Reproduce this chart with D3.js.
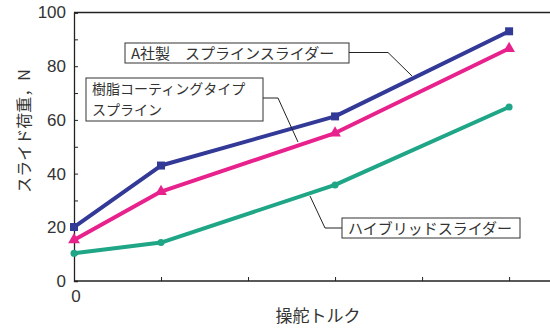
<!DOCTYPE html>
<html>
<head>
<meta charset="utf-8">
<script src="https://cdn.jsdelivr.net/npm/d3@7"></script>
<style>
  html, body { margin: 0; padding: 0; background: #fff; }
  svg { display: block; }
  text { font-family: "Noto Sans CJK JP", "Liberation Sans", sans-serif; fill: #333; }
</style>
</head>
<body>
<svg id="chart" width="550" height="330"></svg>
<script>
// Steering torque positions (tick units) and slide load values, N
const torque = [0, 1, 3, 5];
const splineSlider = [20.1, 43.0, 61.3, 93.0];
const resinSpline = [15.3, 33.3, 55.1, 86.6];
const hybridSlider = [10.3, 14.3, 35.8, 64.8];
const yTicks = [0, 20, 40, 60, 80, 100];
const yMinorTicks = [10, 30, 50, 70, 90];
const xTicks = [1, 2, 3, 4, 5];

const series = [
  { name: "A社製　スプラインスライダー", values: splineSlider, color: "#323996", marker: "square" },
  { name: "樹脂コーティングタイプ", values: resinSpline, color: "#e8228d", marker: "triangle" },
  { name: "ハイブリッドスライダー", values: hybridSlider, color: "#1ea686", marker: "circle" }
];

const svg = d3.select("#chart");
const x = d3.scaleLinear().domain([0, 5.47]).range([74, 550]);
const y = d3.scaleLinear().domain([0, 100]).range([281, 12.5]);

// Frame: top line, left axis, bottom axis
svg.append("line").attr("x1", x(0)).attr("x2", 550).attr("y1", y(100)).attr("y2", y(100))
  .attr("stroke", "#222").attr("stroke-width", 1.3);

const yAxis = svg.append("g").attr("transform", `translate(${x(0)},0)`)
  .call(d3.axisRight(y).tickValues(yTicks.concat(yMinorTicks)).tickSize(4).tickFormat(""));
yAxis.select(".domain").attr("stroke", "#222").attr("stroke-width", 1.3);
yAxis.selectAll(".tick line").attr("stroke", "#222").attr("stroke-width", 1);

const xAxis = svg.append("g").attr("transform", `translate(0,${y(0)})`)
  .call(d3.axisTop(x).tickValues(xTicks).tickSize(4).tickFormat(""));
xAxis.select(".domain").attr("stroke", "#222").attr("stroke-width", 1.3)
  .attr("d", `M${x(0)},0H550`);
xAxis.selectAll(".tick line").attr("stroke", "#222").attr("stroke-width", 1);

// Y tick labels
svg.append("g").selectAll("text").data(yTicks).join("text")
  .attr("x", 66).attr("y", d => y(d)).attr("dy", "0.35em")
  .attr("text-anchor", "end")
  .style("font-family", "'Liberation Sans', sans-serif")
  .style("font-size", "17px")
  .text(d => d);

// X tick label at origin
svg.append("text").attr("x", x(0) + 2).attr("y", 302).attr("text-anchor", "middle")
  .style("font-family", "'Liberation Sans', sans-serif").style("font-size", "17px").text("0");

// Axis titles
svg.append("text").attr("x", 318).attr("y", 322).attr("text-anchor", "middle")
  .style("font-size", "17px").text("操舵トルク");
svg.append("text").attr("transform", "translate(30,131) rotate(-90)")
  .attr("text-anchor", "middle").style("font-size", "16px").text("スライド荷重，N");

// Lines
const line = d3.line().x((d, i) => x(torque[i])).y(d => y(d));
series.forEach(s => {
  svg.append("path").datum(s.values).attr("d", line)
    .attr("fill", "none").attr("stroke", s.color).attr("stroke-width", 4)
    .attr("stroke-linejoin", "round");
  const g = svg.append("g").attr("fill", s.color);
  s.values.forEach((v, i) => {
    const cx = x(torque[i]), cy = y(v);
    if (s.marker === "square") {
      g.append("rect").attr("x", cx - 4).attr("y", cy - 4).attr("width", 8).attr("height", 8);
    } else if (s.marker === "triangle") {
      g.append("path").attr("d", d3.symbol(d3.symbolTriangle, 60)()).attr("transform", `translate(${cx},${cy})`);
    } else {
      g.append("circle").attr("cx", cx).attr("cy", cy).attr("r", 3.5);
    }
  });
});

// Callout labels with leader lines
function callout(box, lines, leader, size, gap, base) {
  svg.append("path").attr("d", d3.line()(leader)).attr("fill", "none")
    .attr("stroke", "#222").attr("stroke-width", 1);
  svg.append("rect").attr("x", box[0]).attr("y", box[1]).attr("width", box[2]).attr("height", box[3])
    .attr("fill", "#fff").attr("stroke", "#333").attr("stroke-width", 1);
  lines.forEach((s, i) => {
    svg.append("text").attr("x", box[0] + 6).attr("y", box[1] + base + i * gap)
      .style("font-size", size + "px").text(s);
  });
}

callout([125, 43, 224, 20], ["A社製　スプラインスライダー"],
  [[349, 52.5], [388, 52.5], [412, 76]], 15, 0, 15.5);
callout([86, 78, 177, 43], ["樹脂コーティングタイプ", "スプライン"],
  [[263, 98], [278, 98], [298, 142]], 14, 20.5, 16);
callout([342, 218, 178, 20], ["ハイブリッドスライダー"],
  [[342, 228], [325, 228], [310, 196]], 15, 0, 15.5);
</script>
</body>
</html>
